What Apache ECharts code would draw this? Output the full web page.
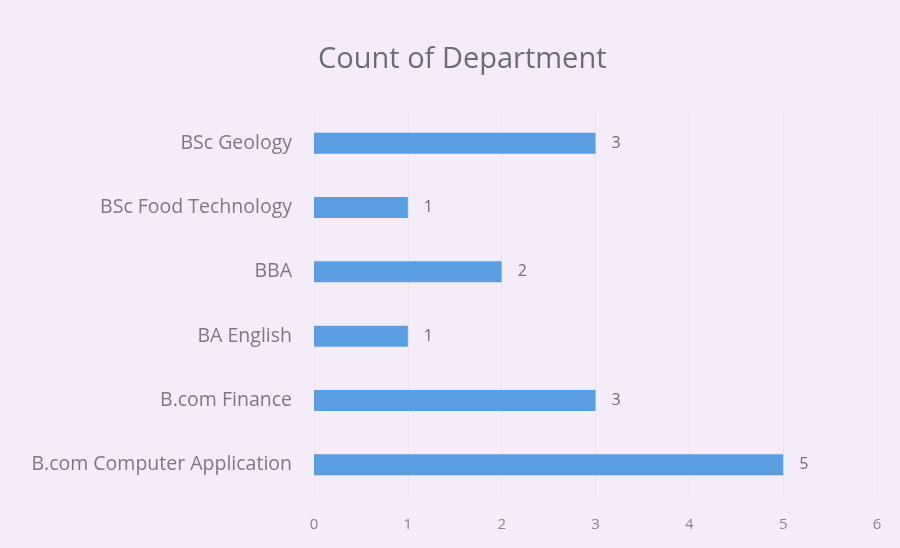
<!DOCTYPE html>
<html>
<head>
<meta charset="utf-8">
<script src="https://cdn.jsdelivr.net/npm/echarts@6/dist/echarts.min.js"></script>
<style>
html,body{margin:0;padding:0;background:#f5ecf9;}
#c{width:900px;height:548px;}
</style>
</head>
<body>
<div id="c"></div>
<script>
const categories = ["B.com Computer Application", "B.com Finance", "BA English", "BBA", "BSc Food Technology", "BSc Geology"];
const counts = [5, 3, 1, 2, 1, 3];
const xTicks = [0, 1, 2, 3, 4, 5, 6];

const chart = echarts.init(document.getElementById('c'));
chart.setOption({
  backgroundColor: '#f5ecf9',
  animation: false,
  textStyle: { fontFamily: 'Open Sans' },
  title: {
    text: 'Count of Department',
    left: 313,
    top: 40,
    textStyle: { fontFamily: 'Open Sans', fontSize: 29, fontWeight: 'normal', color: '#6e6a78' }
  },
  grid: { left: 314, right: 23, top: 111, bottom: 51, containLabel: false },
  xAxis: {
    type: 'value',
    min: xTicks[0],
    max: xTicks[xTicks.length - 1],
    interval: 1,
    axisLine: { show: false },
    axisTick: { show: false },
    splitLine: { show: true, lineStyle: { color: '#ece3f2', width: 1 } },
    axisLabel: { color: '#8a8590', fontSize: 15, margin: 20 }
  },
  yAxis: {
    type: 'category',
    data: categories,
    axisLine: { show: false },
    axisTick: { show: false },
    axisLabel: { color: '#7d7884', fontSize: 19.5, margin: 22 }
  },
  series: [{
    type: 'bar',
    data: counts,
    barWidth: 21,
    itemStyle: { color: '#5a9ee2' },
    label: { show: true, position: 'right', distance: 16, color: '#6e6a78', fontSize: 16 }
  }]
});
</script>
</body>
</html>
